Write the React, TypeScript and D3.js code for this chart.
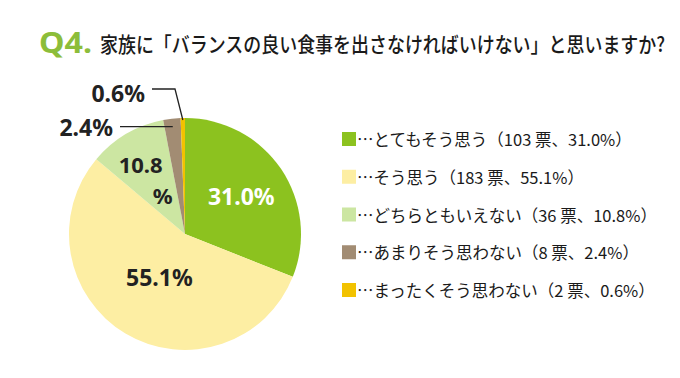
import React, { useLayoutEffect, useRef, useState } from "react";
import * as d3 from "d3";

const categories = ["とてもそう思う", "そう思う", "どちらともいえない", "あまりそう思わない", "まったくそう思わない"];
const votes = [103, 183, 36, 8, 2];
const percents = ["31.0%", "55.1%", "10.8%", "2.4%", "0.6%"];
const colors = ["#8cc21f", "#fdeea3", "#cce6a2", "#a28c73", "#f2c200"];
const titlePrefix = "Q4.";
const titleText = "家族に「バランスの良い食事を出さなければいけない」と思いますか?";

const W = 680, H = 378;
const cx = 185, cy = 234, R = 116;
const FONT = "'Noto Sans CJK JP', 'Noto Sans', sans-serif";
const NUMFONT = "'Noto Sans', 'Open Sans', sans-serif";
const TITLE_W = 565;

export default function App() {
  const titleRef = useRef<SVGTextElement>(null);
  const [sx, setSx] = useState(0.88);
  useLayoutEffect(() => {
    if (titleRef.current) {
      const w = titleRef.current.getComputedTextLength();
      if (w > 0) setSx(TITLE_W / w);
    }
  }, []);

  const pie = d3.pie<number>().sort(null).value((d) => d)(votes);
  const arc = d3.arc<d3.PieArcDatum<number>>().innerRadius(0).outerRadius(R);
  const at = (d: d3.PieArcDatum<number>, r: number) =>
    d3.arc<d3.PieArcDatum<number>>().innerRadius(r).outerRadius(r).centroid(d);

  const p0 = at(pie[0], 68);
  const p1 = at(pie[1], 50);
  const p2 = at(pie[2], 62);
  const p3 = at(pie[3], 108);
  const p4 = at(pie[4], 114);

  const legendY = d3.scaleLinear().domain([0, 4]).range([139, 290]);
  const lbl = { fontFamily: NUMFONT, fontWeight: 700, fontSize: 23, fill: "#222" } as const;

  return (
    <svg width={W} height={H} style={{ position: "absolute", left: 0, top: 0, background: "#fff" }}>
      <rect width={W} height={H} fill="#fff" />
      <text x={39} y={53} fontFamily={NUMFONT} fontWeight={700} fontSize={28} fill="#8cbd3a" textLength={53} lengthAdjust="spacingAndGlyphs">
        {titlePrefix}
      </text>
      <g transform={`translate(100,52) scale(${sx},1)`}>
        <text ref={titleRef} x={0} y={0} fontFamily={FONT} fontWeight={500} fontSize={21} fill="#1a1a1a">
          {titleText}
        </text>
      </g>
      <g transform={`translate(${cx},${cy})`}>
        {pie.map((d, i) => (
          <path key={i} d={arc(d) || ""} fill={colors[i]} />
        ))}
        <text x={p0[0]} y={p0[1]} textAnchor="middle" dominantBaseline="central" {...lbl} fill="#fff">
          {percents[0]}
        </text>
        <text x={p1[0]} y={p1[1]} textAnchor="middle" dominantBaseline="central" {...lbl}>
          {percents[1]}
        </text>
        <text x={p2[0] - 13} y={p2[1] - 8} textAnchor="middle" {...lbl} fontSize={22}>
          {percents[2].replace("%", "")}
        </text>
        <text x={p2[0] + 9} y={p2[1] + 23} textAnchor="middle" {...lbl} fontSize={22}>
          %
        </text>
        <polyline points={`${p3[0]},${p3[1]} ${-65},${p3[1]}`} fill="none" stroke="#222" strokeWidth={1.3} />
        <text x={-72} y={p3[1]} textAnchor="end" dominantBaseline="central" {...lbl}>
          {percents[3]}
        </text>
        <polyline points={`${p4[0]},${p4[1]} ${-10},${-145} ${-33},${-145}`} fill="none" stroke="#222" strokeWidth={1.3} />
        <text x={-40} y={-141} textAnchor="end" dominantBaseline="central" {...lbl}>
          {percents[4]}
        </text>
      </g>
      <g>
        {categories.map((c, i) => (
          <g key={i} transform={`translate(342,${legendY(i)})`}>
            <rect x={0} y={-7} width={14} height={14} fill={colors[i]} />
            <text x={15} y={0} dominantBaseline="central" fontFamily={FONT} fontSize={16.5} fill="#1a1a1a">
              {`…${c}（${votes[i]} 票、${percents[i]}）`}
            </text>
          </g>
        ))}
      </g>
    </svg>
  );
}
